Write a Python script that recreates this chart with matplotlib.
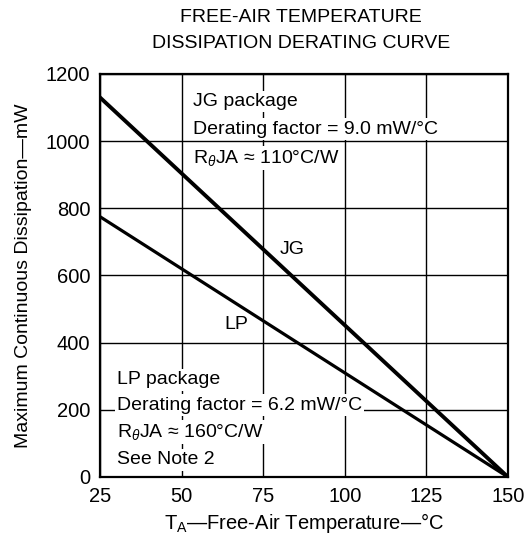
import matplotlib
matplotlib.use("Agg")
import matplotlib.pyplot as plt
import numpy as np

plt.rcParams['font.family'] = ['Liberation Sans', 'DejaVu Sans']
plt.rcParams['mathtext.fontset'] = 'custom'
plt.rcParams['mathtext.rm'] = 'Liberation Sans'
plt.rcParams['mathtext.it'] = 'Liberation Sans:italic'

# data
temps = [25, 150]
jg_power = [1130, 0]
lp_power = [775, 0]
xticks = [25, 50, 75, 100, 125, 150]
yticks = [0, 200, 400, 600, 800, 1000, 1200]

fig = plt.figure(figsize=(5.25, 5.41), dpi=100)
ax = fig.add_axes([0.1905, 0.1183, 0.777, 0.745])

ax.plot(temps, jg_power, color="black", lw=2.8, zorder=5)
ax.plot(temps, lp_power, color="black", lw=2.3, zorder=5)

ax.set_xlim(25, 150)
ax.set_ylim(0, 1200)
ax.set_xticks(xticks)
ax.set_yticks(yticks)
ax.grid(True, color="black", lw=1.0)
ax.tick_params(length=0, labelsize=14.5, pad=7)
for s in ax.spines.values():
    s.set_linewidth(1.6)
    s.set_zorder(6)

box = dict(facecolor="white", edgecolor="none", pad=1.5)
ax.text(80.0, 676, "JG", fontsize=14, ha="left", va="center", bbox=box, zorder=4)
ax.text(63.0, 455, "LP", fontsize=14, ha="left", va="center", bbox=box, zorder=4)

jg_txt = ["JG package", "Derating factor = 9.0 mW/°C", r"R$_{\theta}$JA ≈ 110°C/W"]
for t, y in zip(jg_txt, [1117, 1036, 950]):
    ax.text(53.5, y, t, fontsize=14, ha="left", va="center", bbox=box, zorder=4)

lp_txt = ["LP package", "Derating factor = 6.2 mW/°C", r"R$_{\theta}$JA ≈ 160°C/W", "See Note 2"]
for t, y in zip(lp_txt, [289, 214, 135, 51]):
    ax.text(30.2, y, t, fontsize=14, ha="left", va="center", bbox=box, zorder=4)

ax.set_xlabel("T$_\\mathregular{A}$—Free-Air Temperature—°C", fontsize=14.5, labelpad=4)
ax.set_ylabel("Maximum Continuous Dissipation—mW", fontsize=14, labelpad=10)
fig.text(0.574, 0.968, "FREE-AIR TEMPERATURE", ha="center", va="center", fontsize=14)
fig.text(0.574, 0.920, "DISSIPATION DERATING CURVE", ha="center", va="center", fontsize=14)

fig.savefig("out.png", dpi=100)
